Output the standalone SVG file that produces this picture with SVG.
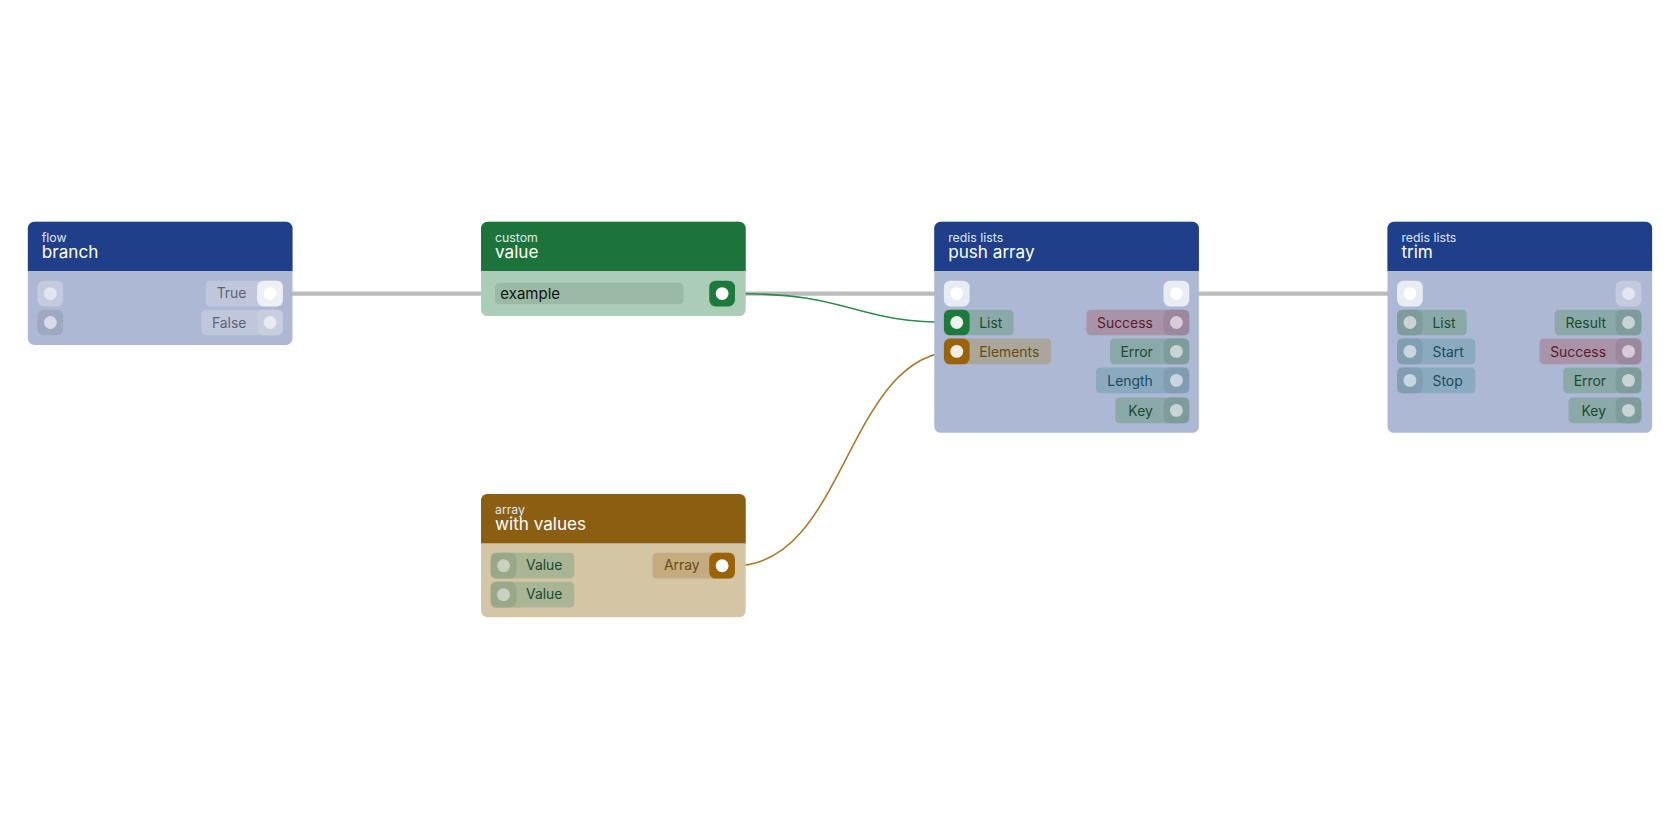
<svg xmlns="http://www.w3.org/2000/svg" width="1680" height="840" viewBox="0 0 1680 840">
<style>
text{font-family:Inter,"Noto Sans",sans-serif}
.cat{font-size:11.5px;fill:#dfe6f5}
.ttl{font-size:16px;fill:#ffffff}
.lbl{font-size:13px}
.exec{stroke:#bbbbbb;stroke-width:4;fill:none}
</style>
<rect width="1680" height="840" fill="#fff"/>
<g transform="scale(1.0714)">
<g id="connectors">
<path class="exec" d="M262 274H449"/>
<path class="exec" d="M686 274H881"/>
<path class="exec" d="M1110 274H1304"/>
<path d="M686 274C800 274 790 301 893 301" stroke="#2f8a4e" stroke-width="1.5" fill="none"/>
<path d="M686 528C790 528 790 328 893 328" stroke="#a97a2e" stroke-width="1.5" fill="none"/>
</g>
<g id="node-branch">
<path d="M32 207h235a6 6 0 0 1 6 6v103a6 6 0 0 1-6 6H32a6 6 0 0 1-6-6V213a6 6 0 0 1 6-6z" fill="#adb8d4"/>
<path d="M32 207h235a6 6 0 0 1 6 6v40H26v-40a6 6 0 0 1 6-6z" fill="#1f3f8a"/>
<text class="cat" x="39" y="226">flow</text><text class="ttl" x="39" y="241">branch</text>
<rect x="35" y="262" width="24" height="24" rx="6" fill="#c4cbe0"/><circle cx="47" cy="274" r="6" fill="#e3e6f0"/>
<rect x="35" y="289" width="24" height="24" rx="6" fill="#9ea8c2"/><circle cx="47" cy="301" r="6" fill="#d7dbe7"/>
<rect x="192" y="262" width="72" height="24" rx="4" fill="#c0c7dc"/><text class="lbl" x="230" y="278" text-anchor="end" fill="#5c6478">True</text>
<rect x="240" y="262" width="24" height="24" rx="6" fill="#eef0f6"/><circle cx="252" cy="274" r="6" fill="#fff"/>
<rect x="188" y="289" width="76" height="24" rx="4" fill="#c0c7dc"/><text class="lbl" x="230" y="306" text-anchor="end" fill="#5c6478">False</text>
<rect x="240" y="289" width="24" height="24" rx="6" fill="#c8cee0"/><circle cx="252" cy="301" r="6" fill="#e8ebf3"/>
</g>
<g id="node-value">
<path d="M455 207h235a6 6 0 0 1 6 6v76a6 6 0 0 1-6 6H455a6 6 0 0 1-6-6V213a6 6 0 0 1 6-6z" fill="#abcdb7"/>
<path d="M455 207h235a6 6 0 0 1 6 6v40H449v-40a6 6 0 0 1 6-6z" fill="#1c743a"/>
<text class="cat" x="462" y="226">custom</text><text class="ttl" x="462" y="241">value</text>
<rect x="462" y="264" width="176" height="20" rx="4" fill="#9bbaa6"/>
<text x="467" y="279" font-size="14" fill="#111">example</text>
<rect x="662" y="262" width="24" height="24" rx="6" fill="#1c7a3a"/><circle cx="674" cy="274" r="6" fill="#fff"/>
</g>
<g id="node-array">
<path d="M455 461h235a6 6 0 0 1 6 6v103a6 6 0 0 1-6 6H455a6 6 0 0 1-6-6V467a6 6 0 0 1 6-6z" fill="#d4c5a5"/>
<path d="M455 461h235a6 6 0 0 1 6 6v40H449v-40a6 6 0 0 1 6-6z" fill="#8b5e12"/>
<text class="cat" x="462" y="480">array</text><text class="ttl" x="462" y="495">with values</text>
<rect x="458" y="516" width="78" height="24" rx="4" fill="#a9b595"/><rect x="458" y="516" width="24" height="24" rx="6" fill="#9aa88a"/><circle cx="470" cy="528" r="6" fill="#c9d2c0"/>
<text class="lbl" x="491" y="532" fill="#1c4a30">Value</text>
<rect x="458" y="543" width="78" height="24" rx="4" fill="#a9b595"/><rect x="458" y="543" width="24" height="24" rx="6" fill="#9aa88a"/><circle cx="470" cy="555" r="6" fill="#c9d2c0"/>
<text class="lbl" x="491" y="559" fill="#1c4a30">Value</text>
<rect x="609" y="516" width="77" height="24" rx="4" fill="#c4ab80"/><text class="lbl" x="653" y="532" text-anchor="end" fill="#6b4a10">Array</text>
<rect x="662" y="516" width="24" height="24" rx="6" fill="#9b6308"/><circle cx="674" cy="528" r="6" fill="#fff"/>
</g>
<g id="node-push">
<path d="M878 207h235a6 6 0 0 1 6 6v185a6 6 0 0 1-6 6H878a6 6 0 0 1-6-6V213a6 6 0 0 1 6-6z" fill="#adb8d4"/>
<path d="M878 207h235a6 6 0 0 1 6 6v40H872v-40a6 6 0 0 1 6-6z" fill="#1f3f8a"/>
<text class="cat" x="885" y="226">redis lists</text><text class="ttl" x="885" y="241">push array</text>
<rect x="881" y="262" width="24" height="24" rx="6" fill="#e8ecf4"/><circle cx="893" cy="274" r="6" fill="#fff"/>
<rect x="1086" y="262" width="24" height="24" rx="6" fill="#e8ecf4"/><circle cx="1098" cy="274" r="6" fill="#fff"/>
<rect x="881" y="289" width="65" height="24" rx="4" fill="#8aa9a8"/><rect x="881" y="289" width="24" height="24" rx="6" fill="#1c7a3a"/><circle cx="893" cy="301" r="6" fill="#eef2ee"/>
<text class="lbl" x="914" y="306" fill="#1c4a30">List</text>
<rect x="881" y="316" width="100" height="24" rx="4" fill="#a9a69c"/><rect x="881" y="316" width="24" height="24" rx="6" fill="#9b6308"/><circle cx="893" cy="328" r="6" fill="#f4efe4"/>
<text class="lbl" x="914" y="333" fill="#6b4a10">Elements</text>
<rect x="1014" y="289" width="96" height="24" rx="4" fill="#a893a8"/><rect x="1086" y="289" width="24" height="24" rx="6" fill="#9c889e"/><circle cx="1098" cy="301" r="6" fill="#d8ccd8"/>
<text class="lbl" x="1076" y="306" text-anchor="end" fill="#5a1a2a">Success</text>
<rect x="1036" y="316" width="74" height="24" rx="4" fill="#8aa9a8"/><rect x="1086" y="316" width="24" height="24" rx="6" fill="#7f9c9c"/><circle cx="1098" cy="328" r="6" fill="#c8d4d6"/>
<text class="lbl" x="1076" y="333" text-anchor="end" fill="#1c4a30">Error</text>
<rect x="1023" y="343" width="87" height="24" rx="4" fill="#8aaabf"/><rect x="1086" y="343" width="24" height="24" rx="6" fill="#809db2"/><circle cx="1098" cy="355" r="6" fill="#c8d6e0"/>
<text class="lbl" x="1076" y="360" text-anchor="end" fill="#1c4a60">Length</text>
<rect x="1041" y="371" width="69" height="24" rx="4" fill="#8aa9a8"/><rect x="1086" y="371" width="24" height="24" rx="6" fill="#7f9c9c"/><circle cx="1098" cy="383" r="6" fill="#c8d4d6"/>
<text class="lbl" x="1076" y="388" text-anchor="end" fill="#1c4a30">Key</text>
</g>
<g id="node-trim">
<path d="M1301 207h235a6 6 0 0 1 6 6v185a6 6 0 0 1-6 6H1301a6 6 0 0 1-6-6V213a6 6 0 0 1 6-6z" fill="#adb8d4"/>
<path d="M1301 207h235a6 6 0 0 1 6 6v40H1295v-40a6 6 0 0 1 6-6z" fill="#1f3f8a"/>
<text class="cat" x="1308" y="226">redis lists</text><text class="ttl" x="1308" y="241">trim</text>
<rect x="1304" y="262" width="24" height="24" rx="6" fill="#e8ecf4"/><circle cx="1316" cy="274" r="6" fill="#fff"/>
<rect x="1508" y="262" width="24" height="24" rx="6" fill="#c4cbe0"/><circle cx="1520" cy="274" r="6" fill="#e3e6f0"/>
<rect x="1304" y="289" width="65" height="24" rx="4" fill="#8aa9a8"/><rect x="1304" y="289" width="24" height="24" rx="6" fill="#7f9c9c"/><circle cx="1316" cy="301" r="6" fill="#c8d4d6"/>
<text class="lbl" x="1337" y="306" fill="#1c4a30">List</text>
<rect x="1304" y="316" width="73" height="24" rx="4" fill="#8aaabf"/><rect x="1304" y="316" width="24" height="24" rx="6" fill="#809db2"/><circle cx="1316" cy="328" r="6" fill="#c8d6e0"/>
<text class="lbl" x="1337" y="333" fill="#1c4a60">Start</text>
<rect x="1304" y="343" width="73" height="24" rx="4" fill="#8aaabf"/><rect x="1304" y="343" width="24" height="24" rx="6" fill="#809db2"/><circle cx="1316" cy="355" r="6" fill="#c8d6e0"/>
<text class="lbl" x="1337" y="360" fill="#1c4a60">Stop</text>
<rect x="1451" y="289" width="81" height="24" rx="4" fill="#8aa9a8"/><rect x="1508" y="289" width="24" height="24" rx="6" fill="#7f9c9c"/><circle cx="1520" cy="301" r="6" fill="#c8d4d6"/>
<text class="lbl" x="1499" y="306" text-anchor="end" fill="#1c4a30">Result</text>
<rect x="1437" y="316" width="95" height="24" rx="4" fill="#a893a8"/><rect x="1508" y="316" width="24" height="24" rx="6" fill="#9c889e"/><circle cx="1520" cy="328" r="6" fill="#d8ccd8"/>
<text class="lbl" x="1499" y="333" text-anchor="end" fill="#5a1a2a">Success</text>
<rect x="1459" y="343" width="73" height="24" rx="4" fill="#8aa9a8"/><rect x="1508" y="343" width="24" height="24" rx="6" fill="#7f9c9c"/><circle cx="1520" cy="355" r="6" fill="#c8d4d6"/>
<text class="lbl" x="1499" y="360" text-anchor="end" fill="#1c4a30">Error</text>
<rect x="1464" y="371" width="68" height="24" rx="4" fill="#8aa9a8"/><rect x="1508" y="371" width="24" height="24" rx="6" fill="#7f9c9c"/><circle cx="1520" cy="383" r="6" fill="#c8d4d6"/>
<text class="lbl" x="1499" y="388" text-anchor="end" fill="#1c4a30">Key</text>
</g>
</g>
</svg>
